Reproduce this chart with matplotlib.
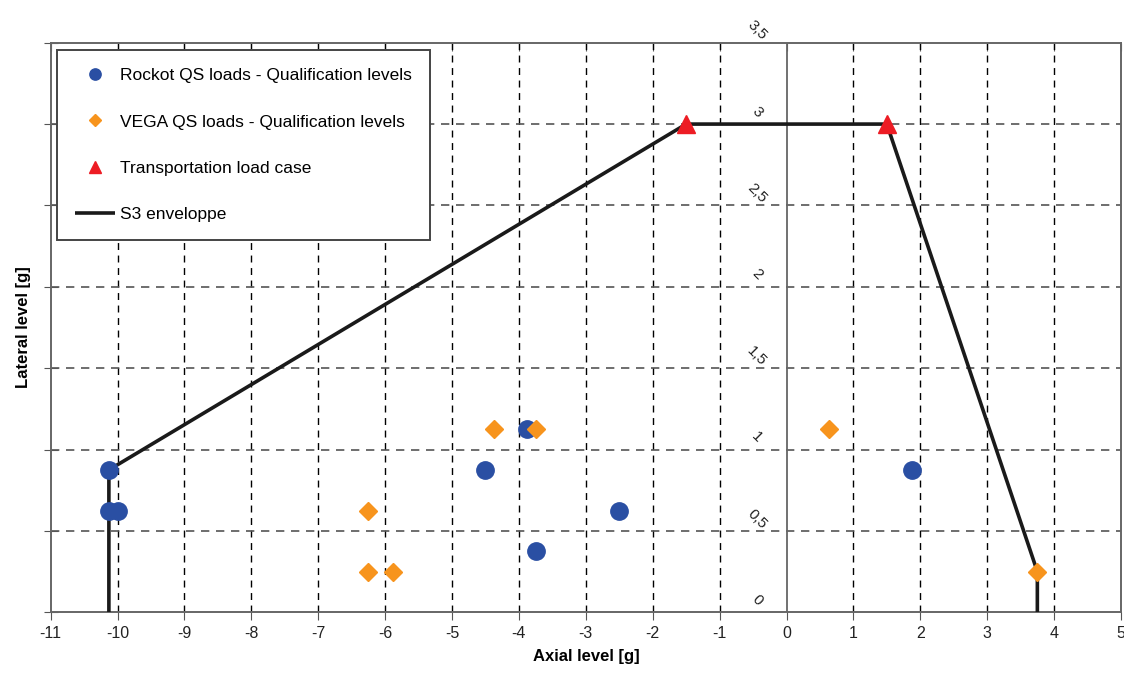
import numpy as np
import matplotlib.pyplot as plt

plt.rcParams['font.family'] = ['Liberation Sans', 'DejaVu Sans']
plt.rcParams['axes.unicode_minus'] = False

# Rockot QS loads - qualification levels
rockot_x = [-10.13, -10.0, -10.13, -4.5, -3.88, -2.5, -3.75, 1.88]
rockot_y = [0.875, 0.625, 0.625, 0.875, 1.125, 0.625, 0.375, 0.875]

# VEGA QS loads - qualification levels
vega_x = [-4.38, -3.75, 0.63, -6.25, -6.25, -5.88, 3.75]
vega_y = [1.125, 1.125, 1.125, 0.625, 0.25, 0.25, 0.25]

# transportation load case
transport_x = [-1.5, 1.5]
transport_y = [3.0, 3.0]

# S3 envelope
env_x = [-10.13, -10.13, -1.5, 1.5, 3.75, 3.75]
env_y = [0.0, 0.875, 3.0, 3.0, 0.25, 0.0]

x_ticks = np.arange(-11, 6)
y_ticks = np.arange(0, 3.51, 0.5)
y_tick_labels = ['0', '0,5', '1', '1,5', '2', '2,5', '3', '3,5']

fig = plt.figure(figsize=(11.24, 6.79), dpi=100)
ax = fig.add_axes([0.0451, 0.0982, 0.9522, 0.8389])

ax.set_xlim(-11, 5)
ax.set_ylim(0, 3.5)

# grid
for xv in x_ticks[1:-1]:
    if xv == 0:
        continue
    ax.axvline(xv, color='black', lw=1, ls=(0, (5, 4)), zorder=1)
for yv in y_ticks[1:-1]:
    ax.axhline(yv, color='#555555', lw=1.2, ls=(0, (5, 4)), zorder=1)
ax.axvline(0, color='#666666', lw=1.3, zorder=1)

env_line, = ax.plot(env_x, env_y, color='#1a1a1a', lw=2.6, zorder=3,
                    solid_capstyle='butt', label='S3 enveloppe')
rk, = ax.plot(rockot_x, rockot_y, 'o', color='#2A4FA3', ms=12.5, ls='none',
              zorder=4, label='Rockot QS loads - Qualification levels')
vg, = ax.plot(vega_x, vega_y, 'D', color='#F7941D', ms=9, ls='none',
              zorder=5, label='VEGA QS loads - Qualification levels')
tr, = ax.plot(transport_x, transport_y, '^', color='#ED1C24', ms=13, ls='none',
              zorder=5, label='Transportation load case')

# rotated y tick labels along the zero axis
for v, lab in zip(y_ticks, y_tick_labels):
    ax.text(-0.44, v + 0.075, lab, rotation=-45, ha='center', va='center',
            fontsize=11, color='#222222', clip_on=False)

ax.set_xticks(x_ticks)
ax.set_yticks(y_ticks)
ax.tick_params(axis='x', direction='out', length=6, labelsize=11.5,
               color='#555555', labelcolor='#222222')
ax.tick_params(axis='y', direction='inout', length=10, labelleft=False,
               color='#555555')
top = ax.secondary_xaxis('top')
top.set_xticks(x_ticks, labels=[])
top.tick_params(direction='in', length=6, color='#555555')
top.spines['top'].set_visible(False)
for s in ax.spines.values():
    s.set_color('#666666')
    s.set_linewidth(1.4)

ax.set_xlabel('Axial level [g]', fontsize=12, fontweight='bold', labelpad=6)
ax.set_ylabel('Lateral level [g]', fontsize=12, fontweight='bold', labelpad=9)

leg = ax.legend(handles=[rk, vg, tr, env_line], loc='upper left',
                bbox_to_anchor=(0.006, 0.987), borderaxespad=0,
                fontsize=12.5, labelspacing=1.78, handlelength=2.3,
                handletextpad=0.25, borderpad=1.05, markerscale=0.65,
                fancybox=False, framealpha=1)
leg.get_frame().set_edgecolor('#444444')
leg.get_frame().set_linewidth(1.4)

fig.savefig('out.png', dpi=100)
